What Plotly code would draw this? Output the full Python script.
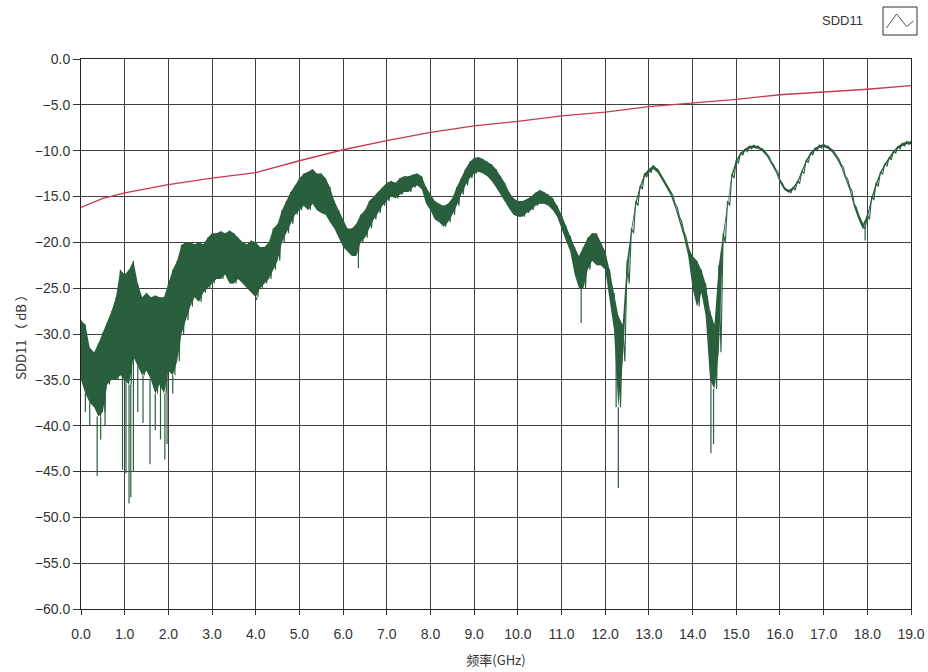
import plotly.graph_objects as go

# Frequency grid (GHz) for the SDD11 envelope readings
freq = [round(i * 0.1, 1) for i in range(191)]

# Upper edge of the noisy SDD11 band (dB), every 0.1 GHz
sdd11_hi = [
    -28.5, -29.0, -31.5, -32.0, -31.0, -29.8, -28.8, -27.5, -26.0, -23.0,
    -23.5, -23.0, -22.0, -24.5, -26.0, -25.5, -26.0, -25.8, -26.0, -26.0,
    -24.5, -23.0, -22.0, -20.3, -20.0, -20.0, -20.2, -20.0, -20.2, -19.5,
    -19.0, -19.0, -18.8, -19.0, -18.7, -19.0, -19.5, -20.0, -20.2, -19.8,
    -20.0, -20.5, -20.5, -20.0, -18.5, -18.0, -16.5, -15.5, -14.5, -13.8,
    -13.0, -12.5, -12.3, -12.0, -12.5, -12.5, -13.0, -14.0, -15.5, -16.5,
    -17.5, -18.5, -18.5, -18.0, -17.0, -16.5, -15.5, -15.0, -14.5, -14.0,
    -13.5, -13.3, -13.5, -13.0, -12.8, -12.8, -12.6, -12.5, -12.8, -14.0,
    -14.8, -15.5, -15.8, -16.0, -15.8, -15.2, -14.0, -13.0, -12.0, -11.2,
    -10.8, -10.7, -10.9, -11.2, -11.5, -12.0, -12.8, -13.5, -14.5, -15.2,
    -15.5, -15.5, -15.3, -15.0, -14.6, -14.3, -14.5, -14.8, -15.2, -16.0,
    -17.0, -18.2, -19.3, -20.5, -21.5, -20.5, -19.5, -19.0, -19.0, -20.0,
    -21.0, -23.0, -25.5, -28.0, -29.0, -22.0, -18.5, -15.5, -13.8, -12.5,
    -12.0, -11.6, -12.0, -12.8, -13.6, -14.5, -15.8, -17.2, -18.8, -20.5,
    -21.5, -22.0, -23.0, -24.5, -27.5, -29.0, -22.5, -19.0, -15.5, -12.5,
    -11.0, -10.2, -9.8, -9.5, -9.4, -9.5, -9.8, -10.3, -11.2, -12.0,
    -13.2, -14.0, -14.3, -14.0, -13.3, -12.2, -11.0, -10.2, -9.7, -9.4,
    -9.3, -9.5, -9.9, -10.6, -11.5, -12.8, -14.0, -15.8, -17.0, -18.0,
    -17.0, -15.0, -13.5, -12.3, -11.4, -10.7, -10.0, -9.5, -9.2, -9.0,
    -9.0,
]

# Lower edge of the dense part of the band (dB), without the needle spikes
sdd11_lo = [
    -35.0, -36.5, -37.5, -38.0, -39.0, -38.5, -35.5, -35.0, -35.0, -34.5,
    -35.0, -35.5, -32.5, -33.5, -34.5, -34.0, -35.0, -36.5, -35.5, -36.5,
    -34.0, -34.5, -33.0, -30.0, -28.5, -27.0, -26.0, -26.5, -25.5, -25.0,
    -24.5, -24.0, -24.0, -23.5, -24.5, -24.5, -24.0, -24.5, -25.0, -25.5,
    -26.0, -25.0, -24.5, -24.0, -23.0, -22.0, -20.0, -19.0, -18.0, -17.0,
    -16.5, -16.0, -16.5, -15.8, -16.5, -16.8, -17.0, -17.8, -18.5, -19.5,
    -20.5, -21.0, -21.5, -21.5, -20.0, -19.5, -18.5, -17.5, -16.8, -16.0,
    -15.5, -15.0, -15.2, -14.8, -14.5, -14.5, -14.0, -13.8, -14.2, -15.8,
    -16.5, -17.5, -17.8, -18.3, -17.8, -17.0, -16.0, -14.8, -13.8, -13.0,
    -12.5, -12.3, -12.5, -12.8, -13.3, -14.0, -14.8, -15.5, -16.3, -17.0,
    -17.2, -17.2, -16.8, -16.5, -16.0, -15.8, -15.8, -16.0, -16.5, -17.2,
    -18.5, -19.8, -21.0, -23.5, -25.0, -25.0, -23.0, -22.0, -22.5, -22.5,
    -23.0, -26.0, -29.5, -38.0, -33.0, -24.5, -19.0, -16.0, -14.2, -12.9,
    -12.4, -12.0, -12.4, -13.2, -14.0, -14.9, -16.2, -17.7, -19.4, -21.5,
    -25.0, -27.0, -25.5, -28.0, -35.0, -36.0, -32.0, -20.0, -16.0, -13.0,
    -11.4, -10.5, -10.1, -9.8, -9.7, -9.8, -10.1, -10.6, -11.5, -12.3,
    -13.5, -14.3, -14.6, -14.3, -13.6, -12.5, -11.3, -10.5, -10.0, -9.7,
    -9.6, -9.8, -10.2, -10.9, -11.8, -13.1, -14.4, -16.2, -17.5, -18.6,
    -17.5, -15.4, -13.9, -12.6, -11.7, -11.0, -10.3, -9.8, -9.5, -9.3,
    -9.3,
]

# Narrow downward needles below the dense band
spike_freq = [0.1, 0.2, 0.37, 0.45, 0.55, 0.95, 1.03, 1.1, 1.14, 1.2, 1.3, 1.42,
              1.58, 1.7, 1.82, 1.92, 1.97, 2.1, 4.02, 6.35, 11.45, 12.25, 12.3,
              14.42, 14.48, 17.95]
spike_db = [-38.5, -40.0, -45.5, -41.5, -40.0, -44.8, -45.2, -48.5, -47.8, -45.0,
            -38.5, -39.7, -44.2, -40.5, -41.5, -43.7, -42.0, -36.5, -26.3, -22.8,
            -28.8, -38.0, -46.8, -43.0, -42.0, -19.8]

# Red reference limit line (dB)
limit_freq = [0.0, 0.5, 1.0, 2.0, 3.0, 4.0, 5.0, 6.0, 7.0, 8.0, 9.0,
              10.0, 11.0, 12.0, 13.0, 14.0, 15.0, 16.0, 17.0, 18.0, 19.0]
limit_db = [-16.2, -15.2, -14.6, -13.7, -13.0, -12.4, -11.1, -9.9, -8.9, -8.0, -7.3,
            -6.8, -6.2, -5.8, -5.2, -4.8, -4.4, -3.9, -3.6, -3.3, -2.9]

x_ticks = [float(i) for i in range(20)]
y_ticks = [float(-5 * i) for i in range(13)]

GREEN = "#2a5f3d"
RED = "#c63a4b"

fig = go.Figure()

# Dense band body
fig.add_trace(go.Scatter(x=freq + freq[::-1], y=sdd11_hi + sdd11_lo[::-1],
                         mode="lines", fill="toself", fillcolor=GREEN,
                         line=dict(width=0), hoverinfo="skip", showlegend=False))

# Jagged texture: alternate the upper and lower readings
zig_x, zig_y = [], []
for f, hi, lo in zip(freq, sdd11_hi, sdd11_lo):
    zig_x += [f, f + 0.05]
    zig_y += [hi, lo]
fig.add_trace(go.Scatter(x=zig_x, y=zig_y, mode="lines",
                         line=dict(color=GREEN, width=1.1),
                         name="SDD11", showlegend=False))

# Needles, each starting from the band's lower edge at the nearest reading
nx, ny = [], []
for f, d in zip(spike_freq, spike_db):
    k = min(range(len(freq)), key=lambda i: abs(freq[i] - f))
    nx += [f, f, None]
    ny += [sdd11_lo[k], d, None]
fig.add_trace(go.Scatter(x=nx, y=ny, mode="lines",
                         line=dict(color=GREEN, width=1.2),
                         hoverinfo="skip", showlegend=False))

fig.add_trace(go.Scatter(x=limit_freq, y=limit_db, mode="lines",
                         line=dict(color=RED, width=1.3),
                         name="limit", showlegend=False))

font_main = "Liberation Sans, Noto Sans CJK SC, sans-serif"
grid_col = "#3f3f3f"

fig.update_layout(
    width=928, height=672,
    margin=dict(l=81, r=17, t=59, b=63),
    paper_bgcolor="white", plot_bgcolor="white",
    font=dict(family=font_main, size=14, color="#333333"),
    xaxis=dict(range=[0, 19], tickvals=x_ticks, tickformat=".1f",
               automargin=False,
               showgrid=True, gridcolor=grid_col, gridwidth=1,
               showline=True, linecolor="#222222", linewidth=1, mirror=True,
               ticks="outside", ticklen=5, tickcolor="#333333",
               ticklabelstandoff=7,
               zeroline=False,
               title=dict(text="频率(GHz)", standoff=15,
                          font=dict(family="Noto Sans CJK SC, sans-serif", size=13))),
    yaxis=dict(range=[-60, 0], tickvals=y_ticks, tickformat=".1f",
               automargin=False,
               showgrid=True, gridcolor=grid_col, gridwidth=1,
               showline=True, linecolor="#222222", linewidth=1, mirror=True,
               ticks="outside", ticklen=7, tickcolor="#333333",
               ticklabelstandoff=0,
               zeroline=False,
               title=dict(text="SDD11 （ dB ）", standoff=5,
                          font=dict(family="Noto Sans CJK SC, sans-serif", size=13))),
)

# Legend-like label with a small plot icon at the top right
fig.add_annotation(xref="paper", yref="paper", x=(842 - 81) / 830, y=1 + (59 - 20) / 550,
                   text="SDD11", showarrow=False, xanchor="center", yanchor="middle",
                   font=dict(size=13, color="#333333"))
x0p, x1p = (883 - 81) / 830, (917 - 81) / 830
y0p, y1p = 1 + (59 - 35) / 550, 1 + (59 - 7) / 550
fig.add_shape(type="rect", xref="paper", yref="paper", x0=x0p, x1=x1p, y0=y0p, y1=y1p,
              line=dict(color="#333333", width=1), fillcolor="white")
icon = [(0.1, 0.25), (0.4, 0.75), (0.7, 0.3), (0.9, 0.5)]
path = "M " + " L ".join(
    f"{x0p + (x1p - x0p) * a:.4f},{y0p + (y1p - y0p) * b:.4f}" for a, b in icon)
fig.add_shape(type="path", xref="paper", yref="paper", path=path,
              line=dict(color="#555555", width=1))

# Remove the browser's default page margin so the figure fills the window exactly
fig.write_html("out.html",
               config={"displayModeBar": False},
               post_script="document.body.style.margin='0';document.body.style.overflow='hidden';")
